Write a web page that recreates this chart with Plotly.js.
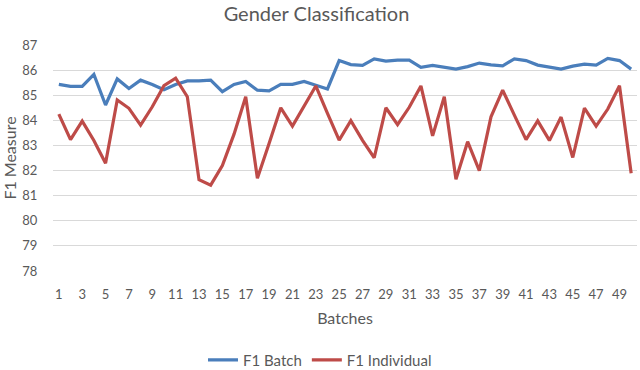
<!DOCTYPE html>
<html>
<head>
<meta charset="utf-8">
<script src="https://cdn.plot.ly/plotly-3.0.1.min.js"></script>
<style>html,body{margin:0;padding:0;background:#fff;overflow:hidden;}#chart{width:640px;height:384px;}</style>
</head>
<body>
<div id="chart"></div>
<script>
const batches = Array.from({length: 50}, (_, i) => i + 1);
const f1Batch = [85.43, 85.35, 85.35, 85.83, 84.61, 85.65, 85.27, 85.6, 85.43, 85.22,
  85.43, 85.57, 85.57, 85.6, 85.14, 85.43, 85.55, 85.2, 85.17, 85.43,
  85.43, 85.55, 85.4, 85.25, 86.38, 86.22, 86.19, 86.45, 86.36, 86.4,
  86.4, 86.11, 86.19, 86.12, 86.04, 86.14, 86.28, 86.21, 86.17, 86.45,
  86.38, 86.2, 86.11, 86.04, 86.16, 86.24, 86.2, 86.47, 86.38, 86.04];
const f1Individual = [84.25, 83.23, 83.97, 83.2, 82.29, 84.81, 84.48, 83.81, 84.54, 85.38,
  85.68, 84.94, 81.64, 81.42, 82.2, 83.45, 84.94, 81.69, 83.08, 84.5,
  83.77, 84.54, 85.37, 84.28, 83.21, 83.99, 83.2, 82.51, 84.5, 83.83,
  84.52, 85.37, 83.38, 84.94, 81.65, 83.15, 82.0, 84.14, 85.2, 84.21,
  83.23, 83.98, 83.2, 84.13, 82.52, 84.49, 83.77, 84.45, 85.38, 81.89];
const xTickVals = [1,3,5,7,9,11,13,15,17,19,21,23,25,27,29,31,33,35,37,39,41,43,45,47,49];
const yTickVals = [78,79,80,81,82,83,84,85,86,87];

const FONT = 'Lato, "Open Sans", sans-serif';
const GREY = '#595959';

const traces = [
  {x: batches, y: f1Batch, type: 'scatter', mode: 'lines', name: 'F1 Batch',
   line: {color: '#4A7EBB', width: 3.2}},
  {x: batches, y: f1Individual, type: 'scatter', mode: 'lines', name: 'F1 Individual',
   line: {color: '#BE4B48', width: 3.2}}
];

const layout = {
  width: 640, height: 384,
  margin: {l: 53, r: 3, t: 45, b: 113},
  paper_bgcolor: '#ffffff', plot_bgcolor: '#ffffff',
  font: {family: FONT, color: GREY, size: 13},
  title: {text: 'Gender Classification', font: {family: FONT, size: 20, color: GREY},
          x: 316.5/640, xanchor: 'center', y: 1 - 14/384, yanchor: 'middle'},
  showlegend: true,
  legend: {orientation: 'h', x: (320 - 53)/584, xanchor: 'center', y: -0.394, yanchor: 'middle',
           font: {family: FONT, size: 15, color: GREY}},
  xaxis: {range: [0.5, 50.5], tickvals: xTickVals, ticktext: xTickVals.map(String),
          showgrid: false, zeroline: false, showline: false, automargin: false,
          ticks: 'outside', ticklen: 11, tickcolor: 'rgba(0,0,0,0)',
          tickfont: {family: FONT, size: 13, color: GREY},
          title: {text: 'Batches', font: {family: FONT, size: 16, color: GREY}, standoff: 12}},
  yaxis: {range: [78, 87], tickvals: yTickVals, showgrid: true, gridcolor: '#D9D9D9', gridwidth: 1,
          zeroline: false, showline: false, automargin: false,
          ticks: 'outside', ticklen: 12, tickcolor: 'rgba(0,0,0,0)',
          tickfont: {family: FONT, size: 13, color: GREY},
          title: {text: 'F1 Measure', font: {family: FONT, size: 16, color: GREY}, standoff: 3}}
};

Plotly.newPlot('chart', traces, layout, {staticPlot: true, displayModeBar: false});
</script>
</body>
</html>
